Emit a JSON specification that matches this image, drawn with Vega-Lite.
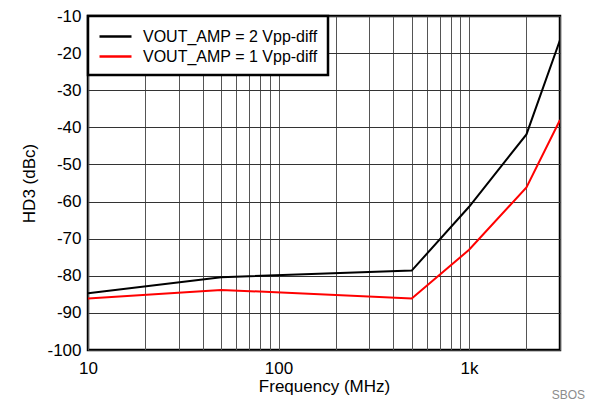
{
  "$schema": "https://vega.github.io/schema/vega-lite/v6.json",
  "width": 472,
  "height": 334,
  "autosize": {"type": "none"},
  "padding": {"left": 88, "top": 16, "right": 33, "bottom": 55},
  "background": "white",
  "config": {
    "font": "Liberation Sans",
    "view": {"stroke": "black", "strokeWidth": 2.5},
    "axis": {"labelFont": "Liberation Sans", "titleFont": "Liberation Sans", "labelColor": "black", "titleColor": "black", "titleFontWeight": "normal"}
  },
  "title": {"text": "SBOS", "orient": "bottom", "anchor": "end", "fontSize": 12, "fontWeight": "normal", "color": "#8c8c8c", "offset": -4, "dx": 25, "font": "Liberation Sans"},
  "data": {"values": [
    {"f": 10, "hd3": -84.7, "s": "VOUT_AMP = 2 Vpp-diff"},
    {"f": 50, "hd3": -80.4, "s": "VOUT_AMP = 2 Vpp-diff"},
    {"f": 500, "hd3": -78.6, "s": "VOUT_AMP = 2 Vpp-diff"},
    {"f": 1000, "hd3": -61.4, "s": "VOUT_AMP = 2 Vpp-diff"},
    {"f": 2000, "hd3": -41.9, "s": "VOUT_AMP = 2 Vpp-diff"},
    {"f": 3000, "hd3": -16.5, "s": "VOUT_AMP = 2 Vpp-diff"},
    {"f": 10, "hd3": -86.1, "s": "VOUT_AMP = 1 Vpp-diff"},
    {"f": 50, "hd3": -83.8, "s": "VOUT_AMP = 1 Vpp-diff"},
    {"f": 500, "hd3": -86.1, "s": "VOUT_AMP = 1 Vpp-diff"},
    {"f": 1000, "hd3": -73.0, "s": "VOUT_AMP = 1 Vpp-diff"},
    {"f": 2000, "hd3": -56.2, "s": "VOUT_AMP = 1 Vpp-diff"},
    {"f": 3000, "hd3": -38.0, "s": "VOUT_AMP = 1 Vpp-diff"}
  ]},
  "mark": {"type": "line", "strokeWidth": 2, "clip": true},
  "encoding": {
    "x": {
      "field": "f", "type": "quantitative",
      "scale": {"type": "log", "domain": [10, 3000], "nice": false},
      "axis": {
        "title": "Frequency (MHz)", "titleFontSize": 17, "titlePadding": 2,
        "values": [10, 20, 30, 40, 50, 60, 70, 80, 90, 100, 200, 300, 400, 500, 600, 700, 800, 900, 1000, 2000, 3000],
        "labelExpr": "datum.value == 10 ? '10' : datum.value == 100 ? '100' : datum.value == 1000 ? '1k' : ''",
        "labelFontSize": 17, "labelPadding": 10, "ticks": false, "domain": false,
        "grid": true, "gridColor": "#555555", "gridWidth": 1, "gridOpacity": 1,
        "labelFlush": false, "labelOverlap": false
      }
    },
    "y": {
      "field": "hd3", "type": "quantitative",
      "scale": {"domain": [-100, -10], "nice": false},
      "axis": {
        "title": "HD3 (dBc)", "titleFontSize": 17, "titlePadding": 8,
        "values": [-100, -90, -80, -70, -60, -50, -40, -30, -20, -10],
        "labelExpr": "'' + datum.value",
        "labelFontSize": 17, "labelPadding": 7, "ticks": false, "domain": false,
        "grid": true, "gridColor": "#333333", "gridWidth": 1, "gridOpacity": 1
      }
    },
    "color": {
      "field": "s", "type": "nominal",
      "scale": {"domain": ["VOUT_AMP = 2 Vpp-diff", "VOUT_AMP = 1 Vpp-diff"], "range": ["black", "#ff0000"]},
      "legend": {
        "title": null, "orient": "top-left", "offset": 0,
        "symbolType": "M-1,0H2.556", "symbolSize": 324, "symbolStrokeWidth": 2.5,
        "labelFontSize": 16, "labelFont": "Liberation Sans", "labelColor": "black",
        "fillColor": "white", "strokeColor": "black",
        "padding": 10, "rowPadding": 1, "labelOffset": 24, "labelLimit": 400,
        "encode": {"legend": {"update": {"strokeWidth": {"value": 2.5}}}}
      }
    }
  }
}
